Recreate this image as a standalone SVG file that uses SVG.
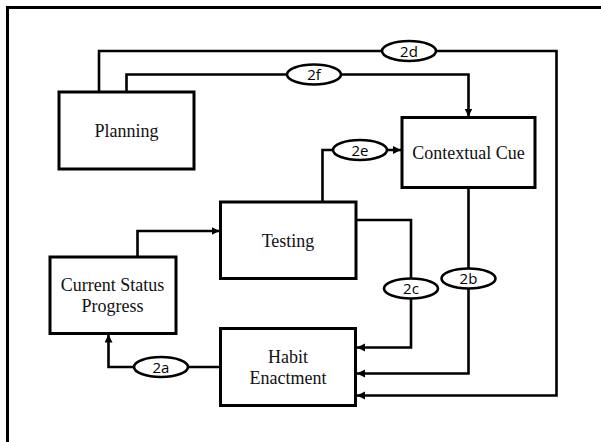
<svg xmlns="http://www.w3.org/2000/svg" width="601" height="442" viewBox="0 0 601 442">
<defs>
<marker id="arr" markerUnits="userSpaceOnUse" markerWidth="10" markerHeight="10" refX="8" refY="4" orient="auto">
<path d="M0,0 L8,4 L0,8 Z" fill="#000"/>
</marker>
<style>
.box{fill:#fff;stroke:#000;stroke-width:3}
.lbl{font-family:"Liberation Serif","Times New Roman",serif;font-size:18px;fill:#111;text-anchor:middle}
.con{fill:none;stroke:#000;stroke-width:2.6}
.ell{fill:#fff;stroke:#000;stroke-width:2.6}
.tag{font-family:"Open Sans","Noto Sans",sans-serif;font-size:15px;fill:#000;text-anchor:middle}
</style>
</defs>
<rect width="601" height="442" fill="#fff"/>
<g id="frame">
<path d="M7.5,442 V7.5 H601" fill="none" stroke="#000" stroke-width="3"/>
</g>
<g id="connectors">
<path class="con" d="M99,92 V51 H556.5 V395.5 H357" marker-end="url(#arr)"/>
<path class="con" d="M126.5,92 V74.5 H468.5 V116.5" marker-end="url(#arr)"/>
<path class="con" d="M322.5,202 V150 H401" marker-end="url(#arr)"/>
<path class="con" d="M137.5,257 V231 H219.5" marker-end="url(#arr)"/>
<path class="con" d="M356,220 H411 V347.5 H357" marker-end="url(#arr)"/>
<path class="con" d="M468.5,187.5 V373.5 H357" marker-end="url(#arr)"/>
<path class="con" d="M220.5,367 H108.5 V334.5" marker-end="url(#arr)"/>
<g id="tag2d"><ellipse class="ell" cx="409" cy="51" rx="27" ry="10"/><text class="tag" x="409" y="56.5">2d</text></g>
<g id="tag2f"><ellipse class="ell" cx="314" cy="74.5" rx="27" ry="10"/><text class="tag" x="314" y="80">2f</text></g>
<g id="tag2e"><ellipse class="ell" cx="360" cy="150" rx="27" ry="10"/><text class="tag" x="360" y="155.5">2e</text></g>
<g id="tag2c"><ellipse class="ell" cx="411" cy="288.5" rx="27" ry="10"/><text class="tag" x="411" y="294">2c</text></g>
<g id="tag2b"><ellipse class="ell" cx="468.5" cy="278.5" rx="27" ry="10"/><text class="tag" x="468.5" y="284">2b</text></g>
<g id="tag2a"><ellipse class="ell" cx="161" cy="367" rx="27" ry="10"/><text class="tag" x="161" y="372.5">2a</text></g>
</g>
<g id="planning">
<rect class="box" x="59" y="92" width="135" height="77"/>
<text class="lbl" x="126.5" y="137">Planning</text>
</g>
<g id="contextual-cue">
<rect class="box" x="402" y="117.5" width="133" height="70"/>
<text class="lbl" x="468.5" y="159">Contextual Cue</text>
</g>
<g id="testing">
<rect class="box" x="220.5" y="202" width="135.5" height="76.5"/>
<text class="lbl" x="288" y="246.5">Testing</text>
</g>
<g id="current-status">
<rect class="box" x="50" y="257" width="126" height="76.5"/>
<text class="lbl" x="112.5" y="291">Current Status</text>
<text class="lbl" x="112.5" y="312">Progress</text>
</g>
<g id="habit-enactment">
<rect class="box" x="220.5" y="328.5" width="135" height="77"/>
<text class="lbl" x="288" y="363">Habit</text>
<text class="lbl" x="288" y="384">Enactment</text>
</g>
</svg>
